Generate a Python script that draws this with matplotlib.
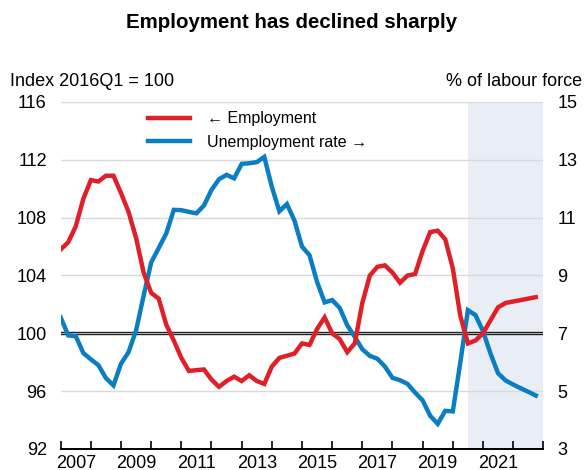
import matplotlib
matplotlib.use("Agg")
import matplotlib.pyplot as plt
import numpy as np

# quarterly data, 2007Q1 .. 2022Q4
start_year = 2007
employment = [105.8, 106.3, 107.4, 109.3, 110.6, 110.5, 110.9, 110.9,
              109.7, 108.4, 106.6, 104.2, 102.8, 102.4, 100.6, 99.5,
              98.3, 97.4, 97.45, 97.5, 96.8, 96.3, 96.7, 97.0,
              96.7, 97.1, 96.7, 96.5, 97.7, 98.3, 98.45, 98.6,
              99.3, 99.2, 100.3, 101.1, 100.0, 99.6, 98.7, 99.3,
              102.1, 104.0, 104.6, 104.7, 104.2, 103.5, 104.0, 104.1,
              105.7, 107.0, 107.1, 106.5, 104.5, 101.2, 99.3, 99.5,
              100.0, 100.9, 101.8, 102.1, 102.2, 102.3, 102.4, 102.5]
unemployment = [7.55, 6.93, 6.9, 6.32, 6.1, 5.9, 5.45, 5.2,
                5.95, 6.35, 7.1, 8.3, 9.45, 9.95, 10.45, 11.27,
                11.26, 11.2, 11.15, 11.42, 11.96, 12.33, 12.48, 12.36,
                12.86, 12.88, 12.92, 13.1, 12.07, 11.22, 11.47, 10.9,
                10.0, 9.7, 8.78, 8.07, 8.15, 7.88, 7.28, 6.88,
                6.45, 6.22, 6.12, 5.85, 5.46, 5.38, 5.25, 4.95,
                4.68, 4.15, 3.87, 4.32, 4.3, 6.0, 7.8, 7.63,
                7.08, 6.3, 5.62, 5.37, 5.23, 5.1, 4.98, 4.85]
shade_start, shade_end = 2020.5, 2023
left_ticks = [92, 96, 100, 104, 108, 112, 116]
right_ticks = [3, 5, 7, 9, 11, 13, 15]
year_labels = [2007, 2009, 2011, 2013, 2015, 2017, 2019, 2021]

RED = "#DF2029"
BLUE = "#0B7DC2"
FONT = "Liberation Sans"
plt.rcParams["font.family"] = [FONT, "DejaVu Sans"]

t = start_year + np.arange(len(employment)) / 4

fig = plt.figure(figsize=(5.84, 4.70), dpi=100)
ax = fig.add_axes([0.1039, 0.0447, 0.8264, 0.7383])
ax2 = ax.twinx()

ax.axvspan(shade_start, shade_end, color="#E9EDF6", lw=0, zorder=0)
for v in left_ticks[1:]:
    if v != 100:
        ax.axhline(v, color="#D9D9D9", lw=1.0, zorder=1)
ax.axhline(100.07, color="#222222", lw=1.0, zorder=2)
ax.axhline(99.93, color="#222222", lw=1.0, zorder=2)

ax.set_xlim(2007, 2023)
ax.set_ylim(92, 116)
ax2.set_ylim(3, 15)

# employment drawn on the right-hand axis after rescaling (100 <-> 7)
lu, = ax2.plot(t, unemployment, color=BLUE, lw=3.2, solid_joinstyle="miter")
le, = ax2.plot(t, [3 + (v - 92) / 2 for v in employment], color=RED, lw=3.2,
               solid_joinstyle="miter")

ax.set_yticks(left_ticks)
ax.set_yticklabels([str(v) for v in left_ticks], fontsize=13)
ax2.set_yticks(right_ticks)
ax2.set_yticklabels([str(v) for v in right_ticks], fontsize=13)
ax.tick_params(axis="y", length=0, pad=10)
ax2.tick_params(axis="y", length=0, pad=10)

ax.set_xticks(np.arange(2007, 2024))
ax.set_xticklabels([])
ax.set_xticks([y + 0.5 for y in year_labels], minor=True)
ax.set_xticklabels([str(y) for y in year_labels], minor=True, fontsize=13)
ax.tick_params(axis="x", which="major", direction="in", length=6, width=1.2, color="black")
ax.tick_params(axis="x", which="minor", length=0, pad=4)
ax2.tick_params(axis="x", which="both", length=0)

for a in (ax, ax2):
    for s in ("top", "left", "right"):
        a.spines[s].set_visible(False)
ax.spines["bottom"].set_linewidth(1.4)
ax2.spines["bottom"].set_visible(False)

ax2.legend([le, lu], ["\u2190 Employment", "Unemployment rate \u2192"],
           loc="upper left", bbox_to_anchor=(0.151, 1.015), frameon=False,
           fontsize=11.5, handlelength=2.66, handletextpad=1.06,
           labelspacing=0.55)

fig.text(0.5, 0.952, "Employment has declined sharply", ha="center", va="center",
         fontsize=14.8, fontweight="bold")
fig.text(0.017, 0.826, "Index 2016Q1 = 100", ha="left", va="center", fontsize=13)
fig.text(0.996, 0.826, "% of labour force", ha="right", va="center", fontsize=13)

fig.savefig("out.png", dpi=100)
